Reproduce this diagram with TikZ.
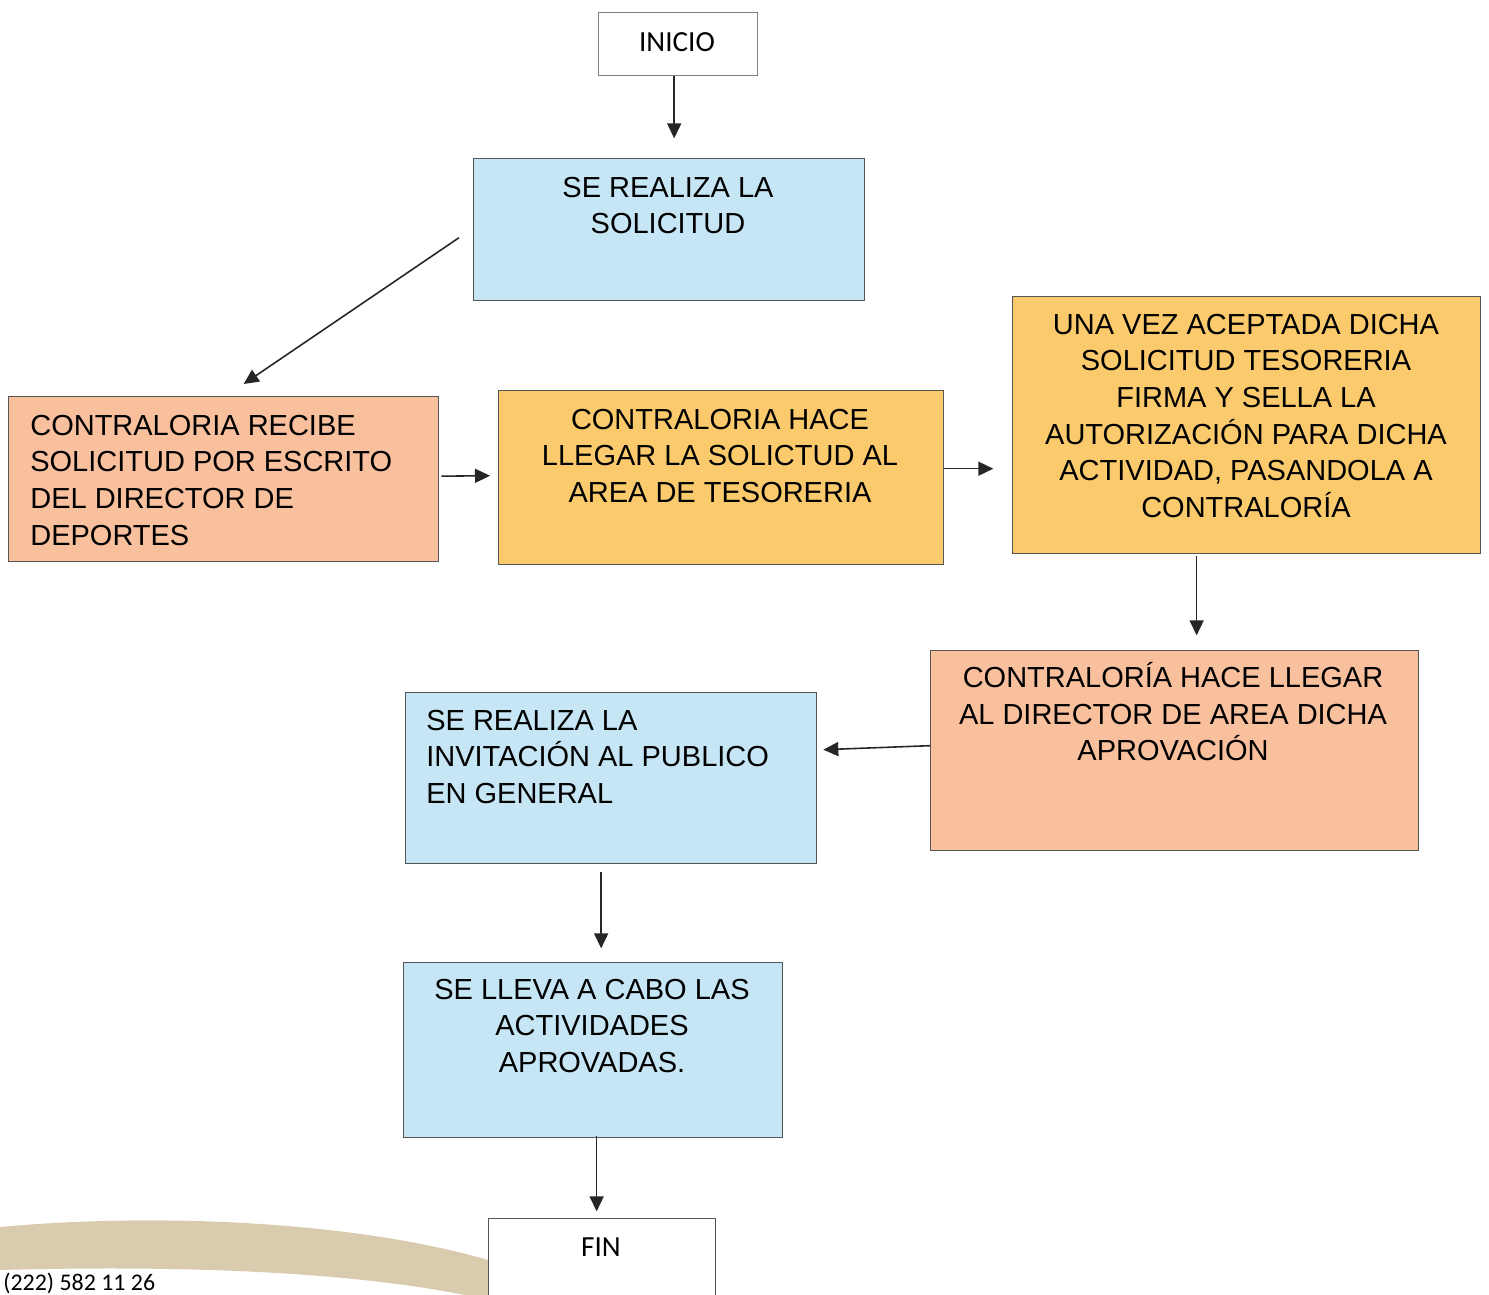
\documentclass[tikz,border=0pt]{standalone}
\usepackage{fontspec}
\setmainfont{Liberation Sans}
\newfontfamily\calib{Carlito}
\usetikzlibrary{arrows.meta,calc}
\definecolor{bluef}{RGB}{198,230,246}
\definecolor{salmonf}{RGB}{249,192,158}
\definecolor{goldf}{RGB}{251,202,108}
\definecolor{bordc}{RGB}{85,85,85}
\definecolor{swoosh}{RGB}{217,204,174}
\begin{document}
\begin{tikzpicture}[x=0.02cm,y=-0.02cm,
  box/.style={draw=bordc, line width=0.8pt, inner sep=0pt, anchor=north west},
  txt/.style={inner sep=0pt, anchor=north, align=center, font=\fontsize{16.5}{20.9}\selectfont},
  txtl/.style={inner sep=0pt, anchor=north west, align=left, font=\fontsize{16.5}{20.9}\selectfont},
  arr/.style={line width=0.9pt, black!85, -{Triangle[length=0.3cm,width=0.28cm]}}]
\useasboundingbox (0,0) rectangle (1489,1295);
\fill[white] (0,0) rectangle (1489,1295);
% swoosh
\fill[swoosh] (0,1227) .. controls (150,1213) and (350,1220) .. (488,1260) -- (488,1300) .. controls (350,1268) and (150,1266) .. (0,1270) -- cycle;
% boxes
\node[box, draw=gray, fill=white, minimum width=3.18cm, minimum height=1.26cm] (B0) at (598,12) {};
\node[box, fill=bluef, minimum width=7.82cm, minimum height=2.84cm] (B1) at (473,158) {};
\node[box, fill=salmonf, minimum width=8.6cm, minimum height=3.3cm] (B2) at (8,396) {};
\node[box, fill=goldf, minimum width=8.9cm, minimum height=3.48cm] (B3) at (498,390) {};
\node[box, fill=goldf, minimum width=9.36cm, minimum height=5.14cm] (B4) at (1012,296) {};
\node[box, fill=salmonf, minimum width=9.76cm, minimum height=4.0cm] (B5) at (930,650) {};
\node[box, fill=bluef, minimum width=8.22cm, minimum height=3.42cm] (B6) at (405,692) {};
\node[box, fill=bluef, minimum width=7.58cm, minimum height=3.5cm] (B7) at (403,962) {};
\node[box, fill=white, minimum width=4.54cm, minimum height=1.8cm] (B8) at (488,1218) {};
% texts
\node[inner sep=0pt, font=\calib\fontsize{16.6}{20}\selectfont] (T0) at (677,42) {INICIO};
\node[txt] (T1) at (668,176.5) {SE REALIZA LA\\SOLICITUD};
\node[txtl] (T2) at (30,414.5) {CONTRALORIA RECIBE\\SOLICITUD POR ESCRITO\\DEL DIRECTOR DE\\DEPORTES};
\node[txt] (T3) at (720,408.5) {CONTRALORIA HACE\\LLEGAR LA SOLICTUD AL\\AREA DE TESORERIA};
\node[txt] (T4) at (1246,313.5) {UNA VEZ ACEPTADA DICHA\\SOLICITUD TESORERIA\\FIRMA Y SELLA LA\\AUTORIZACIÓN PARA DICHA\\ACTIVIDAD, PASANDOLA A\\CONTRALORÍA};
\node[txt] (T5) at (1173,662) {CONTRALORÍA HACE LLEGAR\\AL DIRECTOR DE AREA DICHA\\APROVACIÓN};
\node[txtl] (T6) at (426,709.5) {SE REALIZA LA\\INVITACIÓN AL PUBLICO\\EN GENERAL};
\node[txt] (T7) at (592,978.5) {SE LLEVA A CABO LAS\\ACTIVIDADES\\APROVADAS.};
\node[inner sep=0pt, font=\calib\fontsize{16.6}{20}\selectfont] (T8) at (601,1247) {FIN};
\node[inner sep=0pt, anchor=base west, font=\calib\fontsize{13.6}{16}\selectfont] (PH) at (3,1290) {(222) 582 11 26};
% arrows
\draw[arr] ($(B0.south)+(-4,0)$) -- ++(0,62);
\draw[arr] ($(B1.west)+(-14,8)$) -- ($(B2.north)+(20,-12)$);
\draw[arr] ($(B2.east)+(2,-3)$) -- ($(B3.west)+(-8,-2)$);
\draw[arr] ($(B3.east)+(0,-9)$) -- ++(49,0);
\draw[arr] ($(B4.south)+(-50,2)$) -- ++(0,79);
\draw[arr] ($(B5.west)+(0,-5)$) -- ($(B6.east)+(6,-28.5)$);
\draw[arr] ($(B6.south)+(-10,8)$) -- ++(0,76);
\draw[arr] ($(B7.south)+(3.5,-2)$) -- ++(0,75);
\end{tikzpicture}
\end{document}
